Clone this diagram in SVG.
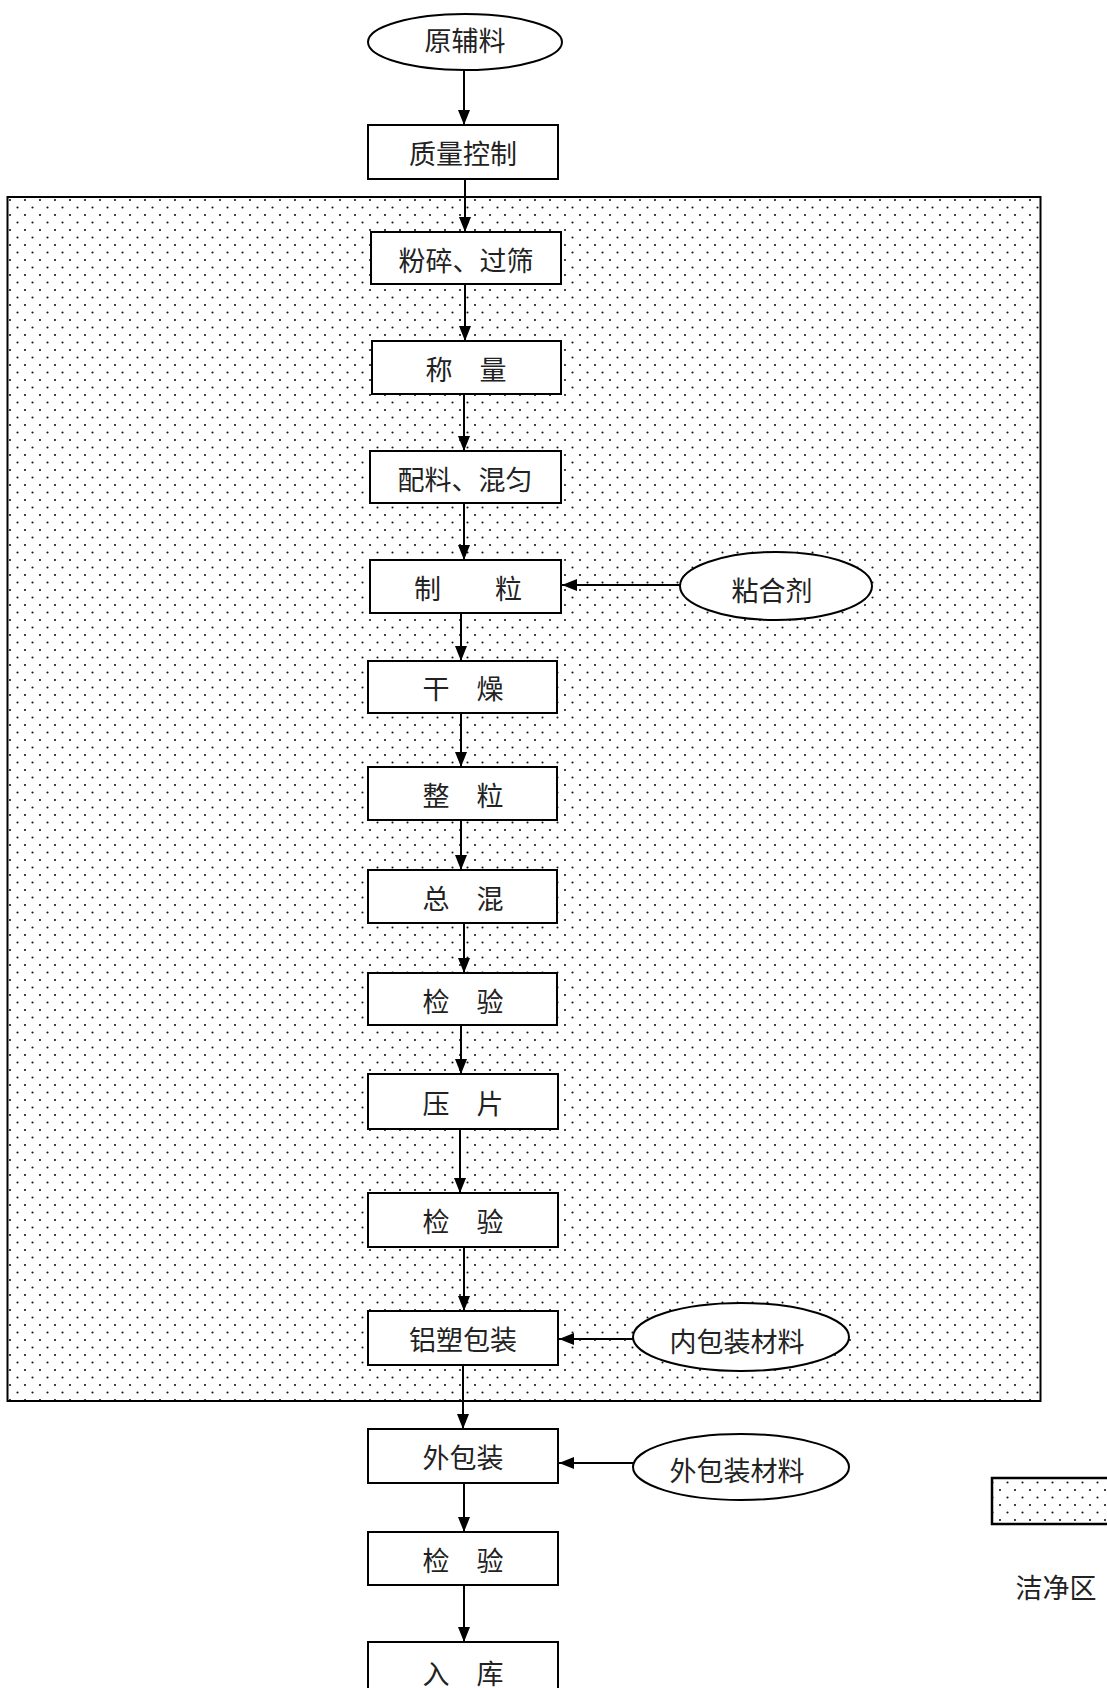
<svg xmlns="http://www.w3.org/2000/svg" width="1107" height="1688" viewBox="0 0 1107 1688">
<style>
.box{fill:#fff;stroke:#000;stroke-width:2}
.ell{fill:#fff;stroke:#000;stroke-width:2}
.t{font-family:"Liberation Serif","Noto Sans CJK SC",serif;font-size:27px;fill:#222;text-anchor:middle;dominant-baseline:central}
.c{stroke:#000;stroke-width:2;fill:none;marker-end:url(#ah)}
</style>
<defs>
<pattern id="dots" patternUnits="userSpaceOnUse" x="8" y="198" width="15" height="15">
<circle cx="2" cy="2" r="1.05" fill="#111"/>
<circle cx="9.5" cy="9.5" r="1.05" fill="#111"/>
</pattern>
<marker id="ah" markerUnits="userSpaceOnUse" markerWidth="15" markerHeight="12" refX="15" refY="6" orient="auto">
<path d="M0,0 L15,6 L0,12 z" fill="#000"/>
</marker>
</defs>
<rect width="1107" height="1688" fill="#fff"/>
<g id="clean-area">
<rect x="7.5" y="197" width="1033" height="1204" fill="url(#dots)" stroke="#000" stroke-width="2"/>
</g>
<g id="legend">
<rect x="992" y="1478" width="130" height="46" fill="url(#dots)" stroke="#000" stroke-width="2.5"/>
<text class="t" x="1056" y="1589">洁净区</text>
</g>
<g id="connectors">
<line class="c" x1="464" y1="70" x2="464" y2="125"/>
<line class="c" x1="465" y1="179" x2="465" y2="232"/>
<line class="c" x1="465" y1="284" x2="465" y2="341"/>
<line class="c" x1="464" y1="394" x2="464" y2="451"/>
<line class="c" x1="464" y1="503" x2="464" y2="560"/>
<line class="c" x1="461" y1="613" x2="461" y2="661"/>
<line class="c" x1="461" y1="713" x2="461" y2="767"/>
<line class="c" x1="461" y1="820" x2="461" y2="870"/>
<line class="c" x1="464" y1="923" x2="464" y2="973"/>
<line class="c" x1="461" y1="1025" x2="461" y2="1074"/>
<line class="c" x1="460" y1="1129" x2="460" y2="1193"/>
<line class="c" x1="464" y1="1247" x2="464" y2="1311"/>
<line class="c" x1="463" y1="1365" x2="463" y2="1429"/>
<line class="c" x1="464" y1="1483" x2="464" y2="1532"/>
<line class="c" x1="464" y1="1585" x2="464" y2="1642"/>
<line class="c" x1="680" y1="585" x2="562" y2="585"/>
<line class="c" x1="633" y1="1339" x2="559" y2="1339"/>
<line class="c" x1="633" y1="1463" x2="559" y2="1463"/>
</g>
<g id="n-raw"><ellipse class="ell" cx="465" cy="42" rx="97" ry="28"/><text class="t" x="465" y="42">原辅料</text></g>
<g id="n-qc"><rect class="box" x="368" y="125" width="190" height="54"/><text class="t" x="463" y="155">质量控制</text></g>
<g id="n-crush"><rect class="box" x="371" y="232" width="190" height="52"/><text class="t" x="466" y="262">粉碎、过筛</text></g>
<g id="n-weigh"><rect class="box" x="372" y="341" width="189" height="53"/><text class="t" x="466" y="371">称　量</text></g>
<g id="n-mix"><rect class="box" x="370" y="451" width="191" height="52"/><text class="t" x="465" y="481">配料、混匀</text></g>
<g id="n-gran"><rect class="box" x="370" y="560" width="191" height="53"/><text class="t" x="468" y="590">制　　粒</text></g>
<g id="n-binder"><ellipse class="ell" cx="776" cy="586" rx="96" ry="34"/><text class="t" x="772" y="592">粘合剂</text></g>
<g id="n-dry"><rect class="box" x="368" y="661" width="189" height="52"/><text class="t" x="463" y="690">干　燥</text></g>
<g id="n-size"><rect class="box" x="368" y="767" width="189" height="53"/><text class="t" x="463" y="797">整　粒</text></g>
<g id="n-blend"><rect class="box" x="368" y="870" width="189" height="53"/><text class="t" x="463" y="900">总　混</text></g>
<g id="n-test1"><rect class="box" x="368" y="973" width="189" height="52"/><text class="t" x="463" y="1003">检　验</text></g>
<g id="n-press"><rect class="box" x="368" y="1074" width="190" height="55"/><text class="t" x="463" y="1105">压　片</text></g>
<g id="n-test2"><rect class="box" x="368" y="1193" width="190" height="54"/><text class="t" x="463" y="1223">检　验</text></g>
<g id="n-blister"><rect class="box" x="368" y="1311" width="190" height="54"/><text class="t" x="463" y="1341">铝塑包装</text></g>
<g id="n-inner"><ellipse class="ell" cx="741" cy="1337" rx="108" ry="34"/><text class="t" x="737" y="1343">内包装材料</text></g>
<g id="n-outer"><rect class="box" x="368" y="1429" width="190" height="54"/><text class="t" x="463" y="1459">外包装</text></g>
<g id="n-outermat"><ellipse class="ell" cx="741" cy="1467" rx="108" ry="33"/><text class="t" x="737" y="1472">外包装材料</text></g>
<g id="n-test3"><rect class="box" x="368" y="1532" width="190" height="53"/><text class="t" x="463" y="1562">检　验</text></g>
<g id="n-store"><rect class="box" x="368" y="1642" width="190" height="60"/><text class="t" x="463" y="1675">入　库</text></g>
</svg>
